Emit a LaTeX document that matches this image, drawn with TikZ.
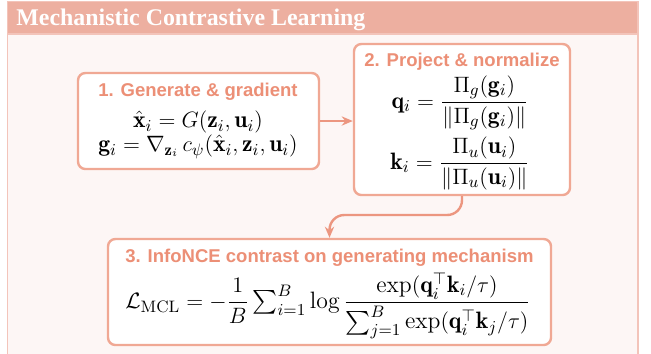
\documentclass[tikz,border=0pt]{standalone}
\usepackage{amsmath,amssymb}
\usepackage{fontspec}
\newfontfamily\headfont{Liberation Serif}
\newfontfamily\boxfont{Liberation Sans}
\usetikzlibrary{arrows.meta}
\definecolor{hdrfill}{RGB}{237,175,160}
\definecolor{bodyfill}{RGB}{253,246,245}
\definecolor{frameline}{RGB}{243,196,186}
\definecolor{boxline}{RGB}{240,168,148}
\definecolor{titlecol}{RGB}{236,143,118}
\definecolor{arrowcol}{RGB}{236,150,128}
\newcommand{\eqA}{\hat{\mathbf{x}}_i = G(\mathbf{z}_i,\mathbf{u}_i)}
\newcommand{\eqB}{\mathbf{g}_i = \nabla_{\mathbf{z}_i}\, c_\psi(\hat{\mathbf{x}}_i,\mathbf{z}_i,\mathbf{u}_i)}
\newcommand{\eqQ}{\mathbf{q}_i = \frac{\Pi_g(\mathbf{g}_i)}{\|\Pi_g(\mathbf{g}_i)\|}}
\newcommand{\eqK}{\mathbf{k}_i = \frac{\Pi_u(\mathbf{u}_i)}{\|\Pi_u(\mathbf{u}_i)\|}}
\newcommand{\eqL}{\mathcal{L}_{\mathrm{MCL}} = -\frac{1}{B}\,{\textstyle\sum_{i=1}^{B}}\log\frac{\exp(\mathbf{q}_i^{\top}\mathbf{k}_i/\tau)}{\sum_{j=1}^{B}\exp(\mathbf{q}_i^{\top}\mathbf{k}_j/\tau)}}
\tikzset{
  stagebox/.style={draw=boxline, line width=1.3pt, fill=white, rounded corners=4pt, inner sep=0pt},
  stagetitle/.style={font=\boxfont\bfseries\fontsize{10}{12}\selectfont, text=titlecol, inner sep=0pt},
  mathnode/.style={inner sep=0pt, font=\fontsize{12.8}{15}\selectfont},
  flow/.style={draw=arrowcol, line width=1.3pt, -{Stealth[length=6pt,width=5pt]}}
}
\begin{document}
\begin{tikzpicture}[x=0.54pt, y=-0.54pt]
\useasboundingbox (0,0) rectangle (651,353);
\clip (0,0) rectangle (651,353);
% outer frame
\fill[bodyfill] (7.5,1.5) rectangle (638,370);
\fill[hdrfill] (7.5,1.5) rectangle (638,34);
\draw[frameline, line width=0.9pt] (7.5,370) -- (7.5,1.5) -- (638,1.5) -- (638,370);
\draw[frameline, line width=0.9pt] (7.5,34) -- (638,34);
\node[anchor=base west, inner sep=0pt, text=white, font=\headfont\bfseries\fontsize{12.9}{14}\selectfont] (hdr) at (16,25) {Mechanistic Contrastive Learning};
% boxes
\node[stagebox, minimum width=130.14pt, minimum height=51.84pt] (b1) at (198.5,121) {};
\node[stagebox, minimum width=116.64pt, minimum height=81.54pt] (b2) at (462,119.5) {};
\node[stagebox, minimum width=239.22pt, minimum height=57.24pt] (b3) at (329.5,292) {};
% box 1
\node[stagetitle] (t1) at (198,92) {1. Generate \& gradient};
\node[mathnode, align=center, font=\fontsize{12.8}{13}\selectfont] (e1) at (198,135) {$\eqA$\\$\eqB$};
% box 2
\node[stagetitle] (t2) at (462,62) {2. Project \& normalize};
\node[mathnode, anchor=mid] (e2a) at (460,104) {$\displaystyle\eqQ$};
\node[mathnode, anchor=mid] (e2b) at (460,165) {$\displaystyle\eqK$};
% box 3
\node[stagetitle] (t3) at (329.5,258) {3. InfoNCE contrast on generating mechanism};
\node[mathnode, anchor=mid] (e3) at (328,304) {$\displaystyle\eqL$};
% connectors
\draw[flow] (b1.east) -- (b1.east -| b2.west);
\coordinate (bend) at (462,215);
\draw[flow, rounded corners=8pt] (b2.south) -- (bend) -- (bend -| b3.north) -- (b3.north);
\end{tikzpicture}
\end{document}
